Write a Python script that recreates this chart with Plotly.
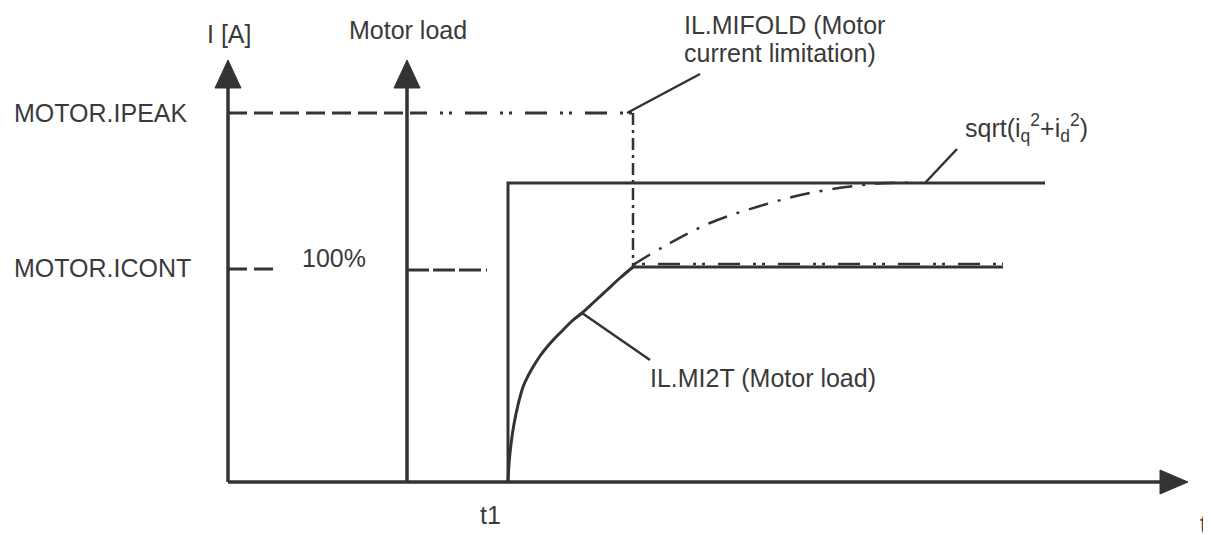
import plotly.graph_objects as go

# diagram units: t = time (origin at the current axis), i = current
T_END = 960            # tip of the time axis
I_TOP = 422            # tip of the current axes
T_LOAD_AXIS = 179      # position of the "Motor load" axis
T1 = 280               # step of the commanded current
T_FOLD = 405           # where IL.MI2T reaches MOTOR.ICONT
T_CMD_END = 817
T_LIM_END = 775
I_PEAK = 369
I_CONT = 215
I_CMD = 299

# IL.MI2T (Motor load) curve
mi2t_t = [280, 281, 283, 286, 290, 295, 300, 305, 312, 319, 327, 335, 344, 354, 366, 379, 392, 405]
mi2t_i = [0, 18, 38, 58, 77, 95, 106, 115, 126, 135, 144, 152, 161, 169, 180, 192, 204, 215]

# sqrt(iq^2 + id^2) curve
sq_t = [405, 435, 482, 532, 582, 635, 660, 690]
sq_i = [217, 235, 259, 276, 289, 297, 299, 299]

INK = '#333333'
FONT = dict(family='Liberation Sans, Arial, sans-serif', size=25, color='#3a3a3a')

fig = go.Figure()


def line(x, y, width=3.0, dash='solid', shape='linear'):
    fig.add_trace(go.Scatter(x=x, y=y, mode='lines',
                             line=dict(color=INK, width=width, dash=dash, shape=shape,
                                       smoothing=1.0),
                             hoverinfo='skip'))


def arrow(x, y):
    fig.add_trace(go.Scatter(x=x, y=y, mode='lines', fill='toself', fillcolor=INK,
                             line=dict(color=INK, width=1), hoverinfo='skip'))


# axes
line([0, 0], [0, I_TOP - 26], width=3.5)
line([T_LOAD_AXIS, T_LOAD_AXIS], [0, I_TOP - 26], width=3.5)
line([0, T_END - 26], [0, 0], width=3.5)
arrow([-13, 13, 0, -13], [I_TOP - 28, I_TOP - 28, I_TOP, I_TOP - 28])
arrow([T_LOAD_AXIS - 13, T_LOAD_AXIS + 13, T_LOAD_AXIS, T_LOAD_AXIS - 13],
      [I_TOP - 28, I_TOP - 28, I_TOP, I_TOP - 28])
arrow([T_END - 28, T_END - 28, T_END, T_END - 28], [-12, 12, 0, -12])

# MOTOR.IPEAK level
line([0, 199], [I_PEAK, I_PEAK], dash='19px,7px')
line([212, T_FOLD], [I_PEAK, I_PEAK], dash='3px,6px,3px,13px,22px,13px')
# IL.MIFOLD vertical drop
line([T_FOLD, T_FOLD], [I_PEAK, I_CONT], width=2.5, dash='12px,5px,3px,5px')

# MOTOR.ICONT level
line([0, 46], [I_CONT - 2, I_CONT - 2], dash='19px,7px')
line([T_LOAD_AXIS, 259], [I_CONT - 3, I_CONT - 3], dash='22px,4px,22px,4px,22px,5px,3px,60px')

# commanded current step
line([T1, T1, T_CMD_END], [0, I_CMD, I_CMD])

# IL.MI2T curve and limited current
line(mi2t_t, mi2t_i, shape='spline')
line([T_FOLD, T_LIM_END], [I_CONT, I_CONT])
line([T_FOLD, T_LIM_END], [I_CONT + 3, I_CONT + 3], width=2.5,
     dash='3px,6px,3px,13px,22px,13px')

# sqrt(iq^2+id^2)
line(sq_t, sq_i, width=2.5, dash='20px,10px,3px,10px', shape='spline')

# leader lines
line([399, 472], [I_PEAK, 408], width=2.5)
line([697, 729], [I_CMD, 333], width=2.5)
line([354, 422], [169, 122], width=2.5)

labels = [
    (1, 448, 'I [A]', 'center'),
    (180, 452, 'Motor load', 'center'),
    (-216, I_PEAK, 'MOTOR.IPEAK', 'left'),
    (-216, I_CONT - 1, 'MOTOR.ICONT', 'left'),
    (106, 224, '100%', 'center'),
    (454, 457, 'IL.MIFOLD (Motor', 'left'),
    (454, 429, 'current limitation)', 'left'),
    (735, 354, 'sqrt(i<sub>q</sub><sup>2</sup>+i<sub>d</sub><sup>2</sup>)', 'left'),
    (420, 104, 'IL.MI2T (Motor load)', 'left'),
    (262, -33, 't1', 'center'),
    (975, -42, 't', 'center'),
]
for x, y, txt, anchor in labels:
    fig.add_annotation(x=x, y=y, text=txt, showarrow=False, xanchor=anchor,
                       yanchor='middle', font=FONT)

# the page adds an 8 px body margin, so the ranges are shifted by 8 px
fig.update_layout(
    width=1211, height=535, autosize=False,
    margin=dict(l=0, r=0, t=0, b=0),
    paper_bgcolor='white', plot_bgcolor='white',
    showlegend=False,
    xaxis=dict(range=[-220, 991], visible=False, fixedrange=True),
    yaxis=dict(range=[-61, 474], visible=False, fixedrange=True),
)

fig.write_html("out.html")
